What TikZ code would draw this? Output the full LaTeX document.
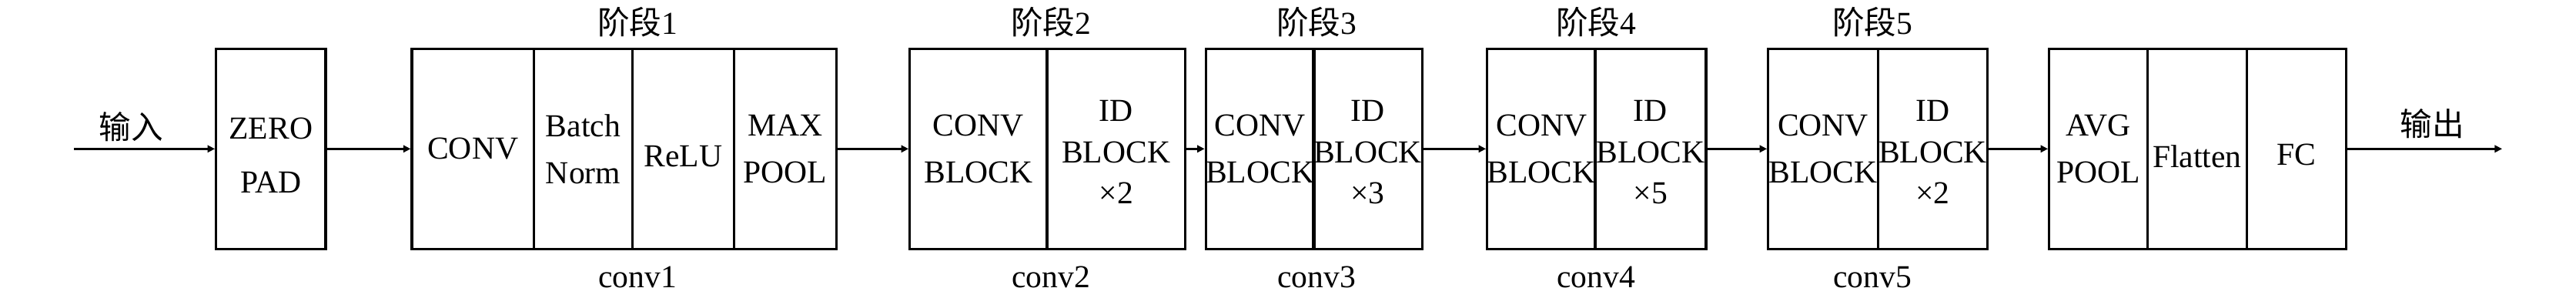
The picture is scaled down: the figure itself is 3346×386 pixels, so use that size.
\documentclass[tikz,border=0pt]{standalone}
\usepackage{fontspec}
\setmainfont{Liberation Serif}
\newfontfamily\cjk{Noto Sans CJK SC}
\usetikzlibrary{arrows.meta}
\newcommand\dn[1]{\rule{0pt}{#1}}
\newcommand\mycell[5][]{\node[cellbox,#1,minimum width={(#4-#3)*0.25pt}] (#2) at ({(#3+#4)/2},193.3) {#5};}
\tikzset{
  cellbox/.style={draw, line width=0.8pt, inner sep=0pt, minimum height=65pt, align=center,
    font=\fontsize{10.4}{15.25}\selectfont},
  three/.style={font=\fontsize{10.4}{13.4}\selectfont},
  zero/.style={font=\fontsize{10.4}{17.5}\selectfont},
  lbl/.style={inner sep=0pt, font=\fontsize{10.4}{12}\selectfont},
  arr/.style={line width=0.8pt, -{Triangle[length=2.4pt,width=2.3pt]}}
}
\begin{document}
\begin{tikzpicture}[x=0.25pt,y=-0.25pt]
\useasboundingbox (0,0) rectangle (3346,386);
% cells
\mycell[zero]{zp}{280.7}{423}{\dn{11.3pt}ZERO\\PAD}
\mycell{c1a}{535}{693.3}{CONV}
\mycell{c1b}{693.3}{821.7}{Batch\\Norm}
\mycell{c1c}{821.7}{953.3}{\dn{11.5pt}ReLU}
\mycell{c1d}{953.3}{1086.7}{MAX\\POOL}
\mycell{c2a}{1181.7}{1360}{CONV\\BLOCK}
\mycell[three]{c2b}{1360}{1539.3}{\dn{9pt}ID\\BLOCK\\×2}
\mycell{c3a}{1567.7}{1705.7}{CONV\\BLOCK}
\mycell[three]{c3b}{1705.7}{1847.3}{\dn{9pt}ID\\BLOCK\\×3}
\mycell{c4a}{1932.7}{2071.7}{CONV\\BLOCK}
\mycell[three]{c4b}{2071.7}{2216}{\dn{9pt}ID\\BLOCK\\×5}
\mycell{c5a}{2296.7}{2439.3}{CONV\\BLOCK}
\mycell[three]{c5b}{2439.3}{2581.7}{\dn{9pt}ID\\BLOCK\\×2}
\mycell{fa}{2661.7}{2789.3}{AVG\\POOL}
\mycell{fb}{2789.3}{2918.3}{\dn{12.1pt}Flatten}
\mycell{fc}{2918.3}{3047.3}{\dn{10.9pt}FC}
% stage labels
\node[lbl] (s1) at (828,29) {{\cjk 阶段}1};
\node[lbl] (s2) at (1365,29) {{\cjk 阶段}2};
\node[lbl] (s3) at (1710,29) {{\cjk 阶段}3};
\node[lbl] (s4) at (2073,29) {{\cjk 阶段}4};
\node[lbl] (s5) at (2432,29) {{\cjk 阶段}5};
\node[lbl,anchor=base] (k1) at (828,373) {conv1};
\node[lbl,anchor=base] (k2) at (1365,373) {conv2};
\node[lbl,anchor=base] (k3) at (1710,373) {conv3};
\node[lbl,anchor=base] (k4) at (2073,373) {conv4};
\node[lbl,anchor=base] (k5) at (2432,373) {conv5};
\node[lbl] (inl) at (170,165) {\cjk 输入};
\node[lbl] (outl) at (3159,161) {\cjk 输出};
% connectors
\coordinate (in) at (96,193.3);
\coordinate (out) at (3250,193.3);
\draw[arr] (in) -- (zp.west);
\draw[arr] (zp.east) -- (c1a.west);
\draw[arr] (c1d.east) -- (c2a.west);
\draw[arr] (c2b.east) -- (c3a.west);
\draw[arr] (c3b.east) -- (c4a.west);
\draw[arr] (c4b.east) -- (c5a.west);
\draw[arr] (c5b.east) -- (fa.west);
\draw[arr] (fc.east) -- (out);
\end{tikzpicture}
\end{document}
